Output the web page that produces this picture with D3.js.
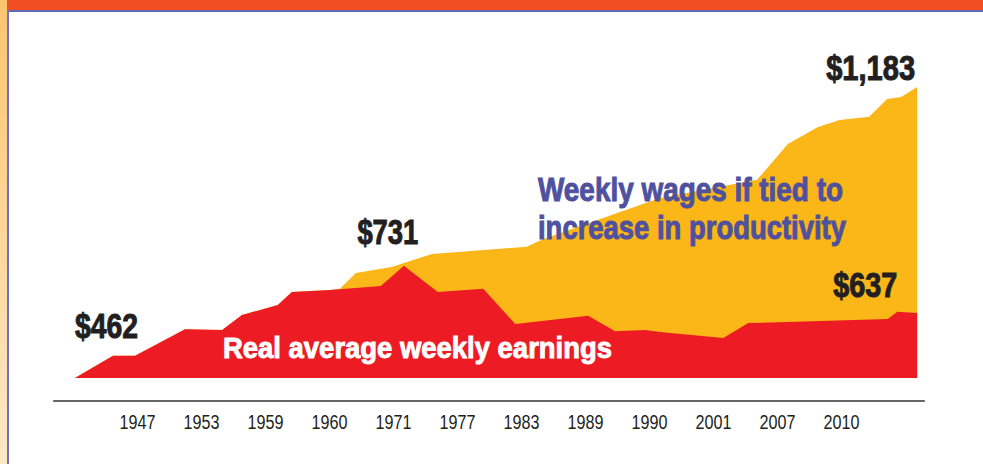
<!DOCTYPE html>
<html>
<head>
<meta charset="utf-8">
<script src="https://cdn.jsdelivr.net/npm/d3@7"></script>
<style>
  html, body { margin: 0; padding: 0; background: #fff; }
  svg { display: block; }
  .axis text { font-family: "Liberation Sans", Arial, sans-serif; font-size: 20px; fill: #231f20; }
  .lbl { font-family: "Liberation Sans", Arial, sans-serif; font-weight: bold; }
</style>
</head>
<body>
<div id="chart"></div>
<script>
// tick labels (categorical positions 0..11)
const years = ["1947", "1953", "1959", "1960", "1971", "1977", "1983", "1989", "1990", "2001", "2007", "2010"];

// [position on the axis, weekly $] — real average weekly earnings
const earnings = [
  [-0.97, 462], [-0.375, 517], [-0.03, 517], [0.75, 583], [1.33, 581], [1.64, 618],
  [2.20, 643], [2.42, 675], [3.02, 680], [3.81, 690], [4.17, 740], [4.70, 675],
  [5.41, 683], [5.91, 596], [7.05, 616], [7.47, 578], [7.94, 581], [8.17, 576],
  [9.16, 561], [9.55, 598], [11.73, 608], [11.88, 626], [12.19, 623]
];

// weekly wages if tied to productivity
const productivity = [
  [-0.97, 462], [-0.375, 517], [-0.03, 517], [0.75, 583], [1.33, 581], [1.64, 618],
  [2.20, 643], [2.42, 675], [3.02, 680], [3.17, 683], [3.42, 722], [3.98, 737],
  [4.17, 747], [4.61, 769], [6.09, 787], [6.34, 806], [8.17, 908], [9.69, 953],
  [10.17, 1042], [10.64, 1084], [10.98, 1101], [11.44, 1109], [11.72, 1153],
  [11.94, 1158], [12.19, 1183]
];

// value callouts: [text, position, value, anchor]
const callouts = [
  ["$462", -0.97, 462, "start"],
  ["$731", 4.17, 740, "middle"],
  ["$637", 12.19, 623, "end"],
  ["$1,183", 12.19, 1183, "end"]
];

const W = 983, H = 464;
const svg = d3.select("#chart").append("svg").attr("width", W).attr("height", H);

// frame: orange top band, pale left strip, blue rules
const grad = svg.append("defs").append("linearGradient")
  .attr("id", "strip").attr("x1", 0).attr("y1", 0).attr("x2", 0).attr("y2", 1);
grad.append("stop").attr("offset", "0%").attr("stop-color", "#fbc56f");
grad.append("stop").attr("offset", "100%").attr("stop-color", "#fde8c6");

svg.append("rect").attr("x", 0).attr("y", 0).attr("width", W).attr("height", 10).attr("fill", "#f24e25");
svg.append("rect").attr("x", 0).attr("y", 0).attr("width", 7).attr("height", H).attr("fill", "url(#strip)");
svg.append("line").attr("x1", 8).attr("x2", W).attr("y1", 11).attr("y2", 11)
  .attr("stroke", "#6567b5").attr("stroke-width", 2);
svg.append("line").attr("x1", 8).attr("x2", 8).attr("y1", 10).attr("y2", H)
  .attr("stroke", "#6f71c0").attr("stroke-width", 2);

// scales
const x = d3.scaleLinear().domain([0, 11]).range([137, 841]);
const y = d3.scaleLinear().domain([462, 1183]).range([378, 87]);

const area = d3.area()
  .x(d => x(d[0]))
  .y0(y(462))
  .y1(d => y(d[1]));

svg.append("path").datum(productivity).attr("d", area).attr("fill", "#fbb617");
svg.append("path").datum(earnings).attr("d", area).attr("fill", "#ed1c24");

// x axis
const axisY = 401;
svg.append("line")
  .attr("x1", x(-1.31)).attr("x2", x(12.31))
  .attr("y1", axisY).attr("y2", axisY)
  .attr("stroke", "#333").attr("stroke-width", 1.5);

const ax = svg.append("g")
  .attr("class", "axis")
  .attr("transform", `translate(0,${axisY})`)
  .call(d3.axisBottom(x).tickValues(d3.range(years.length)).tickFormat(i => years[i]).tickSize(0).tickPadding(14));
ax.select(".domain").remove();
ax.selectAll(".tick text")
  .attr("textLength", 36).attr("lengthAdjust", "spacingAndGlyphs");

// callouts
const calloutDy = { "$462": -40, "$731": -22, "$637": -16, "$1,183": -7 };
const calloutW = { "$462": 63, "$731": 61, "$637": 64, "$1,183": 89 };
const calloutDx = { "$462": 0, "$731": -16, "$637": -20, "$1,183": -2 };
svg.selectAll("text.val")
  .data(callouts)
  .join("text")
  .attr("class", "lbl val")
  .attr("x", d => x(d[1]) + calloutDx[d[0]])
  .attr("y", d => y(d[2]) + calloutDy[d[0]])
  .attr("text-anchor", d => d[3])
  .attr("font-size", 35)
  .attr("fill", "#231f20")
  .attr("stroke", "#231f20").attr("stroke-width", 1)
  .attr("textLength", d => calloutW[d[0]])
  .attr("lengthAdjust", "spacingAndGlyphs")
  .text(d => d[0]);

// series labels
svg.append("text")
  .attr("class", "lbl")
  .attr("x", 223).attr("y", 358)
  .attr("font-size", 29)
  .attr("fill", "#fff")
  .attr("stroke", "#fff").attr("stroke-width", 0.9)
  .attr("textLength", 389).attr("lengthAdjust", "spacingAndGlyphs")
  .text("Real average weekly earnings");

const prodLines = ["Weekly wages if tied to", "increase in productivity"];
const prodW = [305, 308];
svg.selectAll("text.prod")
  .data(prodLines)
  .join("text")
  .attr("class", "lbl prod")
  .attr("x", 538)
  .attr("y", (d, i) => 201 + i * 38)
  .attr("font-size", 34)
  .attr("fill", "#4f519f")
  .attr("stroke", "#4f519f").attr("stroke-width", 1)
  .attr("textLength", (d, i) => prodW[i]).attr("lengthAdjust", "spacingAndGlyphs")
  .text(d => d);
</script>
</body>
</html>
